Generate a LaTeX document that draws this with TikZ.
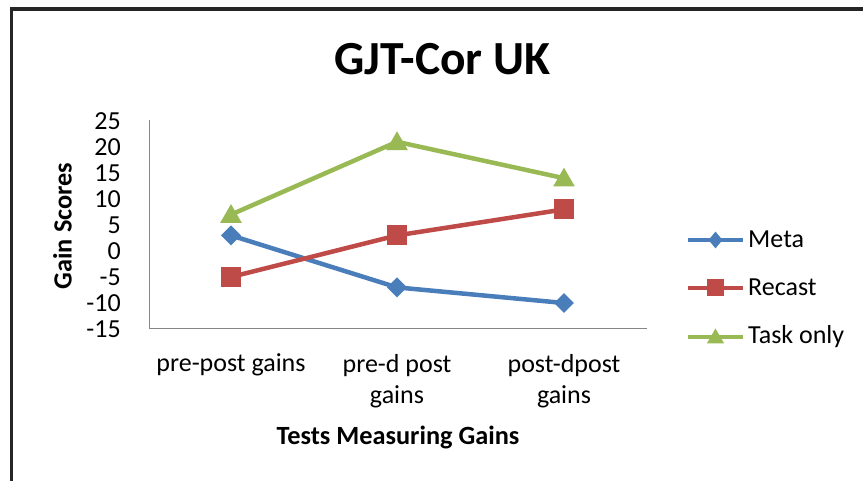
\documentclass[tikz,border=0pt]{standalone}
\usepackage{fontspec}
\setmainfont{Carlito}
\usetikzlibrary{shapes.geometric}

\definecolor{frameink}{HTML}{262626}
\definecolor{axisgray}{HTML}{868686}
\definecolor{metablue}{HTML}{4A7EBB}
\definecolor{recastred}{HTML}{BE4B48}
\definecolor{taskgreen}{HTML}{98B954}

\tikzset{
  series/.style={line width=4.5pt, line join=round},
  metamark/.style={diamond, fill=metablue, inner sep=0pt, minimum width=#1, minimum height=#1},
  recastmark/.style={rectangle, fill=recastred, inner sep=0pt, minimum size=#1},
  taskmark/.style={regular polygon, regular polygon sides=3, fill=taskgreen, inner sep=0pt, minimum size=#1},
  ticklabel/.style={anchor=east, inner sep=0pt, font=\fontsize{26}{31}\selectfont},
  catlabel/.style={anchor=base, inner sep=0pt, align=center, font=\fontsize{26}{31}\selectfont},
  axistitle/.style={inner sep=0pt, font=\fontsize{26.3}{31}\selectfont\bfseries},
  legendtext/.style={anchor=base west, inner sep=0pt, font=\fontsize{26}{31}\selectfont},
}

\begin{document}
\begin{tikzpicture}[x=1pt, y=-1pt]
\useasboundingbox (0,0) rectangle (863,481);

% chart frame (top and left edges)
\draw[frameink, line width=3.3pt] (11.5,481) -- (11.5,9) -- (863,9);

% title
\node[anchor=base, inner sep=0pt, font=\fontsize{47.5}{56}\selectfont\bfseries] (title) at (442.5,75) {GJT-Cor UK};

% axes
\coordinate (ytop) at (149,120);
\coordinate (origin) at (149,329);
\coordinate (xend) at (647,329);
\draw[axisgray, line width=1pt] (ytop) -- (origin) -- (xend);

% value axis labels: y = 251 - 5.2*v
\foreach \v in {25,20,...,-15} {
  \node[ticklabel] (tick\v) at (121,{251-5.2*\v}) {\v};
}

% category labels (two-line ones sit on the baseline of their last line)
\node[catlabel] (cat1) at (231,372) {pre-post gains};
\node[catlabel] (cat2) at (397,403) {pre-d post\\gains};
\node[catlabel] (cat3) at (564,403) {post-dpost\\gains};

% axis titles
\node[axistitle, anchor=base] (xtitle) at (398,444) {Tests Measuring Gains};
\node[axistitle, anchor=base, rotate=90] (ytitle) at (71.5,226) {Gain Scores};

% data points
\coordinate (m1) at (231,{251-5.2*3});
\coordinate (m2) at (397,{251-5.2*(-7)});
\coordinate (m3) at (564,{251-5.2*(-10)});
\coordinate (r1) at (231,{251-5.2*(-5)});
\coordinate (r2) at (397,{251-5.2*3});
\coordinate (r3) at (564,{251-5.2*8});
\coordinate (t1) at (231,{251-5.2*7});
\coordinate (t2) at (397,{251-5.2*21});
\coordinate (t3) at (564,{251-5.2*14});

% series lines
\draw[series, metablue] (m1) -- (m2) -- (m3);
\draw[series, recastred] (r1) -- (r2) -- (r3);
\draw[series, taskgreen] (t1) -- (t2) -- (t3);

% series markers
\foreach \p in {m1,m2,m3} \node[metamark=20pt] (\p mark) at (\p) {};
\foreach \p in {r1,r2,r3} \node[recastmark=20pt] (\p mark) at (\p) {};
\foreach \p in {t1,t2,t3} \node[taskmark=25pt, yshift=-2pt] (\p mark) at (\p) {};

% legend
\coordinate (lm0) at (688,240); \coordinate (lm1) at (743,240);
\coordinate (lr0) at (688,288); \coordinate (lr1) at (743,288);
\coordinate (lt0) at (688,337); \coordinate (lt1) at (743,337);
\draw[series, metablue, line width=4pt] (lm0) -- (lm1);
\draw[series, recastred, line width=4pt] (lr0) -- (lr1);
\draw[series, taskgreen, line width=4pt] (lt0) -- (lt1);
\node[diamond, fill=metablue, inner sep=0pt, minimum width=14pt, minimum height=17pt] (legmeta) at (715.5,240) {};
\node[recastmark=17pt] (legrecast) at (715.5,288) {};
\node[taskmark=20pt, yshift=-1.5pt] (legtask) at (715.5,337) {};
\node[legendtext] (meta) at (748,248) {Meta};
\node[legendtext] (recast) at (748,296) {Recast};
\node[legendtext] (task) at (748,344) {Task only};
\end{tikzpicture}
\end{document}
